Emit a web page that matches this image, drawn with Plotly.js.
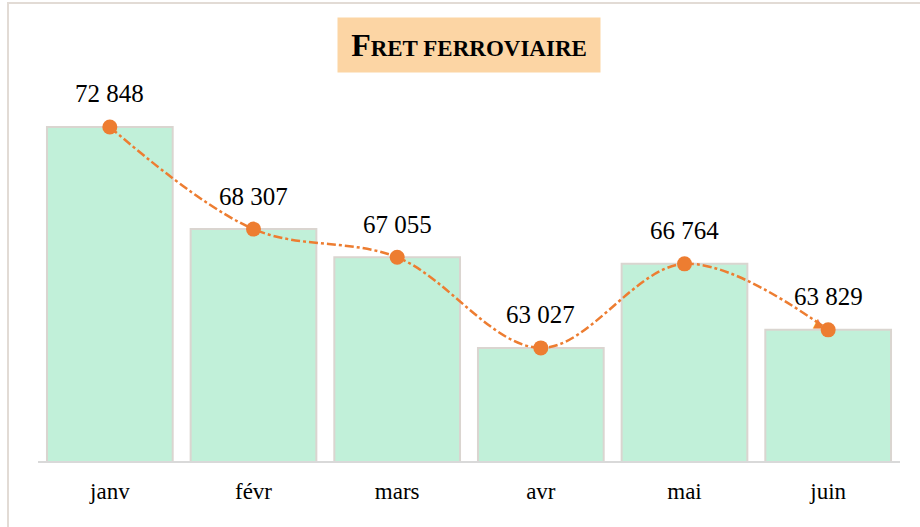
<!DOCTYPE html>
<html>
<head>
<meta charset="utf-8">
<script src="https://cdn.plot.ly/plotly-3.0.1.min.js"></script>
<style>
  html, body { margin: 0; padding: 0; overflow: hidden; background: #ffffff; }
  #frame { position: absolute; left: 7px; top: 2px; width: 1000px; height: 700px; border: 2px solid #e2dbd5; }
  #chart { position: absolute; left: 0; top: 0; width: 920px; height: 527px; }
</style>
</head>
<body>
<div id="frame"></div>
<div id="chart"></div>
<script>
const months = ['janv', 'févr', 'mars', 'avr', 'mai', 'juin'];
const fret = [72848, 68307, 67055, 63027, 66764, 63829];
const valueLabels = ['72 848', '68 307', '67 055', '63 027', '66 764', '63 829'];
const chartTitle = '<b><span style="font-size:32px">F</span>RET FERROVIAIRE</b>';

const serif = 'Liberation Serif';
const orange = '#ed7d31';

const bars = {
  type: 'bar',
  x: months,
  y: fret,
  width: 0.875,
  marker: { color: '#c1f0d9', line: { color: '#dad5d0', width: 2 } },
  hoverinfo: 'skip'
};

const line = {
  type: 'scatter',
  mode: 'lines+markers',
  x: months,
  y: fret,
  line: { color: orange, width: 2.5, dash: 'dashdot', shape: 'spline', smoothing: 1 },
  marker: { color: orange, size: 15 },
  hoverinfo: 'skip'
};

const annotations = months.map((m, i) => ({
  x: m, y: fret[i], xref: 'x', yref: 'y',
  text: valueLabels[i], showarrow: false, yshift: 33,
  font: { family: serif, size: 25, color: '#000000' }
}));

annotations.push({
  x: months[months.length - 1], y: fret[fret.length - 1], xref: 'x', yref: 'y',
  text: '▲', showarrow: false, xshift: -10, yshift: 7,
  font: { family: 'DejaVu Sans', size: 13, color: orange }
});

annotations.push({
  xref: 'paper', yref: 'paper', x: 0.5, y: (461 - 45) / 431,
  xanchor: 'center', yanchor: 'middle',
  text: chartTitle, showarrow: false,
  bgcolor: '#fcd5a4', borderpad: 0, width: 262, height: 54,
  font: { family: serif, size: 23, color: '#000000' }
});

const layout = {
  width: 920, height: 527,
  margin: { l: 38, r: 20, t: 30, b: 66 },
  paper_bgcolor: 'rgba(0,0,0,0)',
  plot_bgcolor: 'rgba(0,0,0,0)',
  showlegend: false,
  bargap: 0.125,
  font: { family: serif },
  xaxis: {
    type: 'category',
    showline: true, linecolor: '#d9d9d9', linewidth: 2,
    ticks: '', showgrid: false, zeroline: false,
    ticklabelstandoff: 8,
    tickfont: { family: serif, size: 23, color: '#000000' }
  },
  yaxis: {
    visible: false, range: [58000, 77158], showgrid: false, zeroline: false
  },
  annotations: annotations
};

Plotly.newPlot('chart', [bars, line], layout, { displayModeBar: false, staticPlot: true });
</script>
</body>
</html>
